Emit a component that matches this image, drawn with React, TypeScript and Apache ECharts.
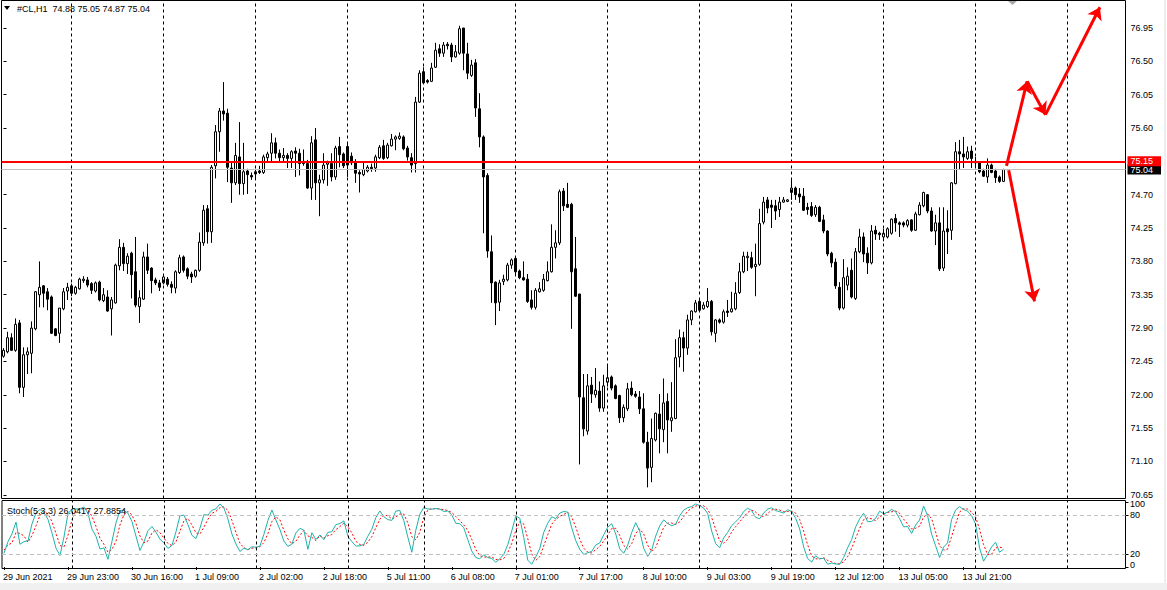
import React, { useEffect, useRef } from 'react';
import * as echarts from 'echarts';

// H1 candles of #CL (bar 0 = 29 Jun 2021 07:00)
const opens = [
72.52,72.58,72.77,72.60,72.97,72.10,72.54,72.56,72.89,73.35,73.47,73.39,73.32,72.89,72.83,73.16,73.40,73.47,73.37,73.43,
73.54,73.55,73.50,73.40,73.52,73.27,73.32,73.16,73.24,73.74,73.99,73.77,73.91,73.66,73.19,73.29,73.86,73.71,73.55,73.51,
73.51,73.56,73.49,73.44,73.65,73.86,73.70,73.63,73.60,73.68,74.05,74.51,74.20,75.09,75.55,75.83,75.80,75.06,74.86,75.21,
74.85,75.02,74.96,74.98,75.02,75.00,75.20,75.26,75.40,75.26,75.20,75.23,75.19,75.29,75.26,75.15,75.12,74.79,75.44,74.86,
74.90,75.11,75.12,74.94,75.35,75.25,75.35,75.22,75.14,75.00,74.97,75.02,75.07,75.06,75.20,75.36,75.20,75.36,75.45,75.46,
75.48,75.33,75.20,75.12,75.95,76.36,76.24,76.23,76.42,76.67,76.61,76.73,76.72,76.56,76.61,76.95,76.60,76.31,76.48,75.86,
75.48,74.96,73.93,73.52,73.25,73.53,73.55,73.75,73.84,73.67,73.58,73.56,73.28,73.18,73.39,73.41,73.54,73.66,73.99,74.05,
74.75,74.57,74.57,73.70,73.36,71.96,71.51,72.13,72.00,72.05,71.82,72.17,72.24,72.12,71.99,71.69,71.81,72.09,72.01,71.97,
71.81,71.36,71.02,71.39,71.74,71.53,71.91,71.65,71.68,72.51,72.77,72.63,73.01,73.12,73.26,73.16,73.19,73.26,72.83,73.01,
72.98,73.13,73.12,73.16,73.38,73.66,73.85,73.85,73.73,73.76,74.33,74.63,74.56,74.55,74.50,74.60,74.61,74.73,74.79,74.71,
74.68,74.53,74.54,74.43,74.53,74.36,74.21,73.91,73.79,73.45,73.17,73.48,73.68,73.30,73.93,74.13,73.91,73.78,74.22,74.18,
74.13,74.13,74.18,74.38,74.32,74.32,74.29,74.36,74.22,74.43,74.55,74.70,74.48,74.21,74.32,73.71,74.24,74.22,74.85,75.28,
75.25,75.19,75.29,75.15,75.13,75.02,74.94,75.10,75.02,74.94,74.88
];
const closes = [
72.60,72.77,72.60,72.95,72.10,72.54,72.58,72.90,73.39,73.45,73.37,73.29,72.83,72.80,73.17,73.39,73.45,73.37,73.45,73.56,
73.56,73.48,73.41,73.51,73.28,73.35,73.13,73.28,73.75,73.99,73.77,73.87,73.62,73.21,73.31,73.86,73.68,73.54,73.51,73.45,
73.59,73.49,73.45,73.66,73.85,73.68,73.60,73.59,73.68,74.06,74.49,74.20,75.07,75.55,75.83,75.79,75.07,74.86,75.23,74.85,
75.01,74.97,74.94,75.01,75.00,75.21,75.25,75.40,75.26,75.20,75.23,75.19,75.28,75.26,75.12,75.12,74.79,75.40,74.86,74.90,
75.10,75.13,74.94,75.33,75.24,75.09,75.10,75.13,74.99,74.98,75.04,75.07,75.05,75.21,75.34,75.19,75.37,75.45,75.48,75.49,
75.32,75.21,75.10,75.95,76.34,76.21,76.22,76.41,76.65,76.61,76.72,76.71,76.56,76.63,76.94,76.61,76.34,76.45,75.87,75.48,
74.94,73.94,73.51,73.24,73.51,73.56,73.75,73.82,73.66,73.58,73.55,73.26,73.18,73.41,73.43,73.56,73.66,73.99,74.05,74.74,
74.55,74.53,73.66,73.33,71.97,71.54,72.12,72.01,72.06,71.82,72.12,72.23,72.09,71.95,71.69,71.83,72.08,72.00,71.98,71.81,
71.36,71.01,71.41,71.75,71.54,71.89,71.66,71.69,72.50,72.77,72.63,73.01,73.13,73.24,73.14,73.21,73.26,72.85,73.01,72.98,
73.12,73.11,73.16,73.37,73.66,73.87,73.87,73.72,73.76,74.31,74.60,74.52,74.53,74.48,74.60,74.63,74.63,74.79,74.70,74.67,
74.49,74.50,74.42,74.53,74.34,74.21,73.90,73.78,73.47,73.17,73.58,73.60,73.32,73.93,74.13,73.90,73.78,74.21,74.17,74.16,
74.18,74.24,74.37,74.32,74.30,74.29,74.35,74.22,74.44,74.56,74.73,74.48,74.21,74.32,73.70,74.21,74.20,74.86,75.28,75.25,
75.21,75.28,75.19,75.13,75.01,74.95,75.10,75.00,74.93,74.88,75.04
];
const lows = [
72.50,72.56,72.59,72.58,72.02,71.97,72.28,72.29,72.87,73.18,73.18,73.14,72.82,72.79,72.70,73.14,73.28,73.33,73.35,73.42,
73.51,73.45,73.36,73.38,73.26,73.25,73.12,72.80,73.23,73.68,73.67,73.63,73.30,73.18,72.97,73.28,73.63,73.37,73.48,73.40,
73.49,73.46,73.37,73.37,73.63,73.65,73.56,73.51,73.58,73.66,74.01,74.04,74.05,74.92,75.28,75.70,74.87,74.59,74.83,74.70,
74.70,74.71,74.90,74.90,74.98,74.98,75.14,75.13,75.19,75.15,75.13,75.06,75.06,74.94,74.96,75.09,74.78,74.63,74.63,74.41,
74.85,74.82,74.88,74.90,75.07,75.06,74.94,75.10,74.86,74.73,74.95,75.00,75.01,75.01,75.18,75.17,75.18,75.35,75.30,75.44,
75.30,75.16,75.00,75.00,75.94,76.20,76.20,76.22,76.41,76.56,76.56,76.66,76.49,76.55,76.59,76.38,76.26,76.29,75.75,75.34,
74.18,73.85,73.24,72.94,73.13,73.48,73.53,73.70,73.62,73.56,73.54,73.24,73.15,73.15,73.38,73.39,73.53,73.65,73.84,74.02,
74.48,74.52,72.89,73.32,71.06,71.44,71.46,71.89,71.96,71.77,71.77,72.11,72.06,71.94,71.62,71.63,71.78,71.98,71.96,71.74,
71.34,70.75,70.82,71.37,71.21,71.36,71.21,71.50,71.67,72.37,72.31,72.54,72.94,73.11,73.13,73.15,73.17,72.80,72.71,72.96,
72.96,73.05,73.11,73.14,73.36,73.64,73.67,73.70,73.33,73.74,74.30,74.45,74.25,74.36,74.40,74.59,74.60,74.63,74.63,74.59,
74.48,74.43,74.40,74.40,74.33,74.18,73.87,73.72,73.43,73.14,73.15,73.41,73.30,73.28,73.91,73.79,73.63,73.76,74.09,74.09,
74.07,74.11,74.16,74.20,74.13,74.26,74.26,74.20,74.21,74.42,74.53,74.45,74.20,74.02,73.67,73.67,73.90,74.09,74.84,75.04,
75.06,75.17,75.06,75.07,74.99,74.94,74.86,74.99,74.86,74.86,74.87
];
const highs = [
72.63,72.85,72.83,73.03,73.01,72.64,72.64,72.99,73.40,73.80,73.48,73.44,73.34,72.90,73.17,73.44,73.51,73.50,73.47,73.58,
73.60,73.59,73.52,73.53,73.54,73.44,73.41,73.32,73.77,74.10,74.05,73.91,73.93,74.13,73.41,73.93,74.04,73.72,73.58,73.55,
73.62,73.59,73.53,73.68,73.89,73.88,73.72,73.66,73.69,74.19,74.56,74.56,75.10,75.64,75.87,76.22,75.86,75.13,75.40,75.68,
75.40,75.05,75.00,75.04,75.09,75.24,75.28,75.53,75.47,75.31,75.33,75.26,75.30,75.34,75.32,75.31,75.17,75.49,75.60,74.97,
75.26,75.16,75.26,75.36,75.48,75.27,75.41,75.27,75.18,75.03,75.13,75.10,75.12,75.24,75.37,75.44,75.40,75.52,75.50,75.54,
75.50,75.36,75.26,76.02,76.38,76.42,76.26,76.48,76.75,76.73,76.76,76.76,76.75,76.72,76.98,76.95,76.75,76.52,76.53,76.07,
75.50,74.99,74.15,73.53,73.55,73.62,73.78,73.84,73.86,73.69,73.80,73.63,73.41,73.44,73.52,73.63,73.80,74.30,74.22,74.77,
74.79,74.86,74.59,74.13,73.36,72.28,72.28,72.24,72.36,72.18,72.27,72.40,72.26,72.14,72.00,71.87,72.16,72.18,72.05,72.05,
72.02,71.50,71.68,71.76,72.01,72.22,72.02,72.17,72.75,72.88,72.85,73.08,73.14,73.28,73.28,73.25,73.44,73.28,73.02,73.03,
73.15,73.28,73.39,73.52,73.78,73.93,73.93,73.93,74.04,74.51,74.67,74.67,74.63,74.63,74.67,74.67,74.64,74.91,74.81,74.79,
74.79,74.59,74.60,74.56,74.55,74.43,74.22,73.93,73.84,73.52,73.83,73.72,73.84,73.98,74.24,74.19,73.99,74.29,74.28,74.20,
74.24,74.26,74.38,74.44,74.34,74.34,74.37,74.37,74.47,74.60,74.74,74.71,74.53,74.43,74.53,74.53,74.49,74.87,75.41,75.44,
75.48,75.35,75.36,75.21,75.14,75.05,75.19,75.12,75.05,74.96,75.05
];

// trading sessions (hour of first and last H1 bar of each day)
const tradingDays = [
  { day: '29 Jun', first: 7, last: 23 },
  { day: '30 Jun', first: 1, last: 23 },
  { day: '1 Jul', first: 1, last: 23 },
  { day: '2 Jul', first: 1, last: 23 },
  { day: '5 Jul', first: 1, last: 19 },
  { day: '6 Jul', first: 1, last: 23 },
  { day: '7 Jul', first: 1, last: 23 },
  { day: '8 Jul', first: 1, last: 23 },
  { day: '9 Jul', first: 1, last: 23 },
  { day: '12 Jul', first: 1, last: 23 },
  { day: '13 Jul', first: 1, last: 23 },
  { day: '14 Jul', first: 1, last: 23 },
  { day: '15 Jul', first: 1, last: 15 },
];
const firstLabel = '29 Jun 2021';
const labelEvery = 16;

const priceTicks = [70.65, 71.10, 71.55, 72.00, 72.45, 72.90, 73.35, 73.80, 74.25, 74.70, 75.15, 75.60, 76.05, 76.50, 76.95];
const stochTicks = [0, 20, 80, 100];
const stochLevels = [20, 80];
const horizontalLine = 75.15;
const bidPrice = 75.04;
const titleText = '#CL,H1  74.88 75.05 74.87 75.04';
const stochTitle = 'Stoch(5,3,3) 26.0417 27.8854';

// stochastic values of the bars before enough history is available
const kSeeds = [21, 39, 51, 69, 35, 39];
const dSeeds = [26, 34];

// forecast arrows: [bar index, price]
const arrowPaths = [
  [[250.75, 75.09], [255.9, 76.23]],
  [[255.9, 76.23], [260.5, 75.78]],
  [[260.5, 75.78], [274.1, 77.23]],
  [[251.3, 75.03], [257.75, 73.26]],
];

function buildCategories() {
  const cats: string[] = [];
  const hours: number[] = [];
  tradingDays.forEach((d) => {
    for (let h = d.first; h <= d.last; h++) {
      cats.push(`${d.day} ${String(h).padStart(2, '0')}:00`);
      hours.push(h);
    }
  });
  return { cats, hours };
}

function stochastic(kPeriod: number, slowing: number) {
  const n = closes.length;
  const k: number[] = [];
  for (let i = 0; i < n; i++) {
    if (i < kPeriod + slowing - 2) { k.push(kSeeds[i]); continue; }
    let num = 0, den = 0;
    for (let j = 0; j < slowing; j++) {
      const t = i - j;
      let ll = Infinity, hh = -Infinity;
      for (let m = t - kPeriod + 1; m <= t; m++) { ll = Math.min(ll, lows[m]); hh = Math.max(hh, highs[m]); }
      num += closes[t] - ll; den += hh - ll;
    }
    k.push(den === 0 ? 100 : (100 * num) / den);
  }
  const d = k.map((_, i) => (i < 2 ? dSeeds[i] : (k[i] + k[i - 1] + k[i - 2]) / 3));
  return { k, d };
}

const FONT = 'Liberation Sans';

export default function App() {
  const ref = useRef<HTMLDivElement>(null);
  useEffect(() => {
    if (!ref.current) return;
    const chart = echarts.init(ref.current, undefined, { renderer: 'svg' });
    const { cats, hours } = buildCategories();
    const nReal = closes.length;
    const separators: number[] = [];
    hours.forEach((h, i) => { if (h === 1) separators.push(i); });
    const { k, d } = stochastic(5, 3);
    const candleData = opens.map((o, i) => [o, closes[i], lows[i], highs[i]]);
    const showLabel = (idx: number) => idx % labelEvery === 0 && idx < nReal;
    const sepLines = separators.map((s) => ({ xAxis: s }));
    const dashed = { color: '#000', width: 1, type: [3, 3] as any };
    const boxLabel = (text: string, bg: string) => ({
      show: true, position: 'end', distance: 2, formatter: text, color: '#fff', backgroundColor: bg,
      padding: [1, 8, 0, 3], fontFamily: FONT, fontSize: 9,
    });

    chart.setOption({
      animation: false,
      backgroundColor: '#fff',
      grid: [
        { left: 1.5, top: 0.5, width: 1124, height: 498, show: true, borderColor: '#000', borderWidth: 1, backgroundColor: 'transparent' },
        { left: 1.5, top: 500.5, width: 1124, height: 68, show: true, borderColor: '#000', borderWidth: 1, backgroundColor: 'transparent' },
      ],
      xAxis: [
        { type: 'category', gridIndex: 0, data: cats, boundaryGap: true, axisLine: { show: false }, axisTick: { show: false }, axisLabel: { show: false }, splitLine: { show: false } },
        {
          type: 'category', gridIndex: 1, data: cats, boundaryGap: true,
          axisLine: { show: false },
          axisTick: { show: true, alignWithLabel: true, length: 3, interval: (i: number) => showLabel(i), lineStyle: { color: '#000' } },
          axisLabel: {
            show: true, interval: (i: number) => showLabel(i), align: 'left', margin: 4,
            fontFamily: FONT, fontSize: 9, color: '#000', padding: [0, 0, 0, -1],
            formatter: (v: string, i: number) => (i === 0 ? firstLabel : v),
          },
          splitLine: { show: false },
        },
        { type: 'value', gridIndex: 0, min: -0.5, max: cats.length - 0.5, show: false },
      ],
      yAxis: [
        {
          type: 'value', gridIndex: 0, position: 'right', min: 70.6, max: 77.321, scale: true,
          axisLine: { show: false }, splitLine: { show: false },
          axisTick: { show: true, length: 3, customValues: priceTicks, lineStyle: { color: '#000' } },
          axisLabel: { customValues: priceTicks, margin: 5, fontFamily: FONT, fontSize: 9, color: '#000', formatter: (v: number) => v.toFixed(2) },
        },
        {
          type: 'value', gridIndex: 1, position: 'right', min: -2.3, max: 102.3,
          axisLine: { show: false }, splitLine: { show: false },
          axisTick: { show: true, length: 3, customValues: stochTicks, lineStyle: { color: '#000' } },
          axisLabel: { show: false },
        },
      ],
      series: [
        {
          type: 'candlestick', xAxisIndex: 0, yAxisIndex: 0, data: candleData, barWidth: 2,
          itemStyle: { color: '#fff', color0: '#000', borderColor: '#000', borderColor0: '#000', borderWidth: 1 },
          markLine: {
            silent: true, symbol: ['none', 'none'], animation: false,
            data: [
              ...sepLines.map((s) => ({ ...s, lineStyle: dashed, label: { show: false } })),
              { yAxis: bidPrice, lineStyle: { color: '#c0c0c0', width: 1, type: 'solid' }, label: boxLabel(bidPrice.toFixed(2), '#000') },
              { yAxis: horizontalLine, lineStyle: { color: '#ff0000', width: 2, type: 'solid' }, label: boxLabel(horizontalLine.toFixed(2), '#ff0000') },
            ],
          },
        },
        {
          type: 'lines', coordinateSystem: 'cartesian2d', xAxisIndex: 2, yAxisIndex: 0,
          symbol: ['none', 'arrow'], symbolSize: 12,
          lineStyle: { color: '#ff0000', width: 3, opacity: 1 },
          data: arrowPaths.map((p) => ({ coords: p })),
          z: 5,
        },
        {
          type: 'line', xAxisIndex: 1, yAxisIndex: 1, data: k, showSymbol: false, symbol: 'none',
          lineStyle: { color: '#20b2aa', width: 1 }, z: 3,
          markLine: {
            silent: true, symbol: ['none', 'none'], animation: false,
            data: [
              ...sepLines.map((s) => ({ ...s, lineStyle: dashed, label: { show: false } })),
              ...stochLevels.map((l) => ({ yAxis: l, lineStyle: { color: '#c0c0c0', width: 1, type: [4, 3] as any }, label: { show: false } })),
            ],
          },
        },
        {
          type: 'line', xAxisIndex: 1, yAxisIndex: 1, data: d, showSymbol: false, symbol: 'none',
          lineStyle: { color: '#ff0000', width: 1, type: [2, 2] as any }, z: 2,
        },
      ],
      graphic: [
        { id: 'tri', type: 'polygon', z: 100, shape: { points: [[4, 6], [10, 6], [7, 10]] }, style: { fill: '#000' } },
        { id: 'title', type: 'text', z: 100, left: 17, top: 4, style: { text: titleText, font: `9px "${FONT}"`, fill: '#000' } },
        { id: 'stitle', type: 'text', z: 100, left: 7, top: 506, style: { text: stochTitle, font: `9px "${FONT}"`, fill: '#000' } },
        { id: 'shift', type: 'polygon', z: 100, shape: { points: [[1008, 1], [1017, 1], [1012.5, 5]] }, style: { fill: '#a8a8a8' } },
        { id: 'strip', type: 'rect', z: 0, shape: { x: 0, y: 583, width: 1167, height: 7 }, style: { fill: '#f0f0f0' } },
        { id: 'edge', type: 'line', z: 0, shape: { x1: 1165, y1: 0, x2: 1165, y2: 583 }, style: { stroke: '#dcdcdc', lineWidth: 1 } },
      ],
    });

    // stochastic scale labels, placed through the axis scale (MT4 keeps 100 / 0 inside the window)
    const stochLabelGraphics = stochTicks.map((v) => {
      const py = chart.convertToPixel({ yAxisIndex: 1 }, v) as number;
      const shift = v === 100 ? 2 : v === 0 ? -2 : 0;
      return {
        id: `sl${v}`, type: 'text', z: 100, x: 1130, y: py + shift,
        style: { text: String(v), font: `9px "${FONT}"`, fill: '#000', verticalAlign: 'middle', align: 'left' },
      };
    });
    chart.setOption({ graphic: stochLabelGraphics });
    return () => chart.dispose();
  }, []);
  return <div ref={ref} style={{ position: 'fixed', left: 0, top: 0, width: 1167, height: 590 }} />;
}
